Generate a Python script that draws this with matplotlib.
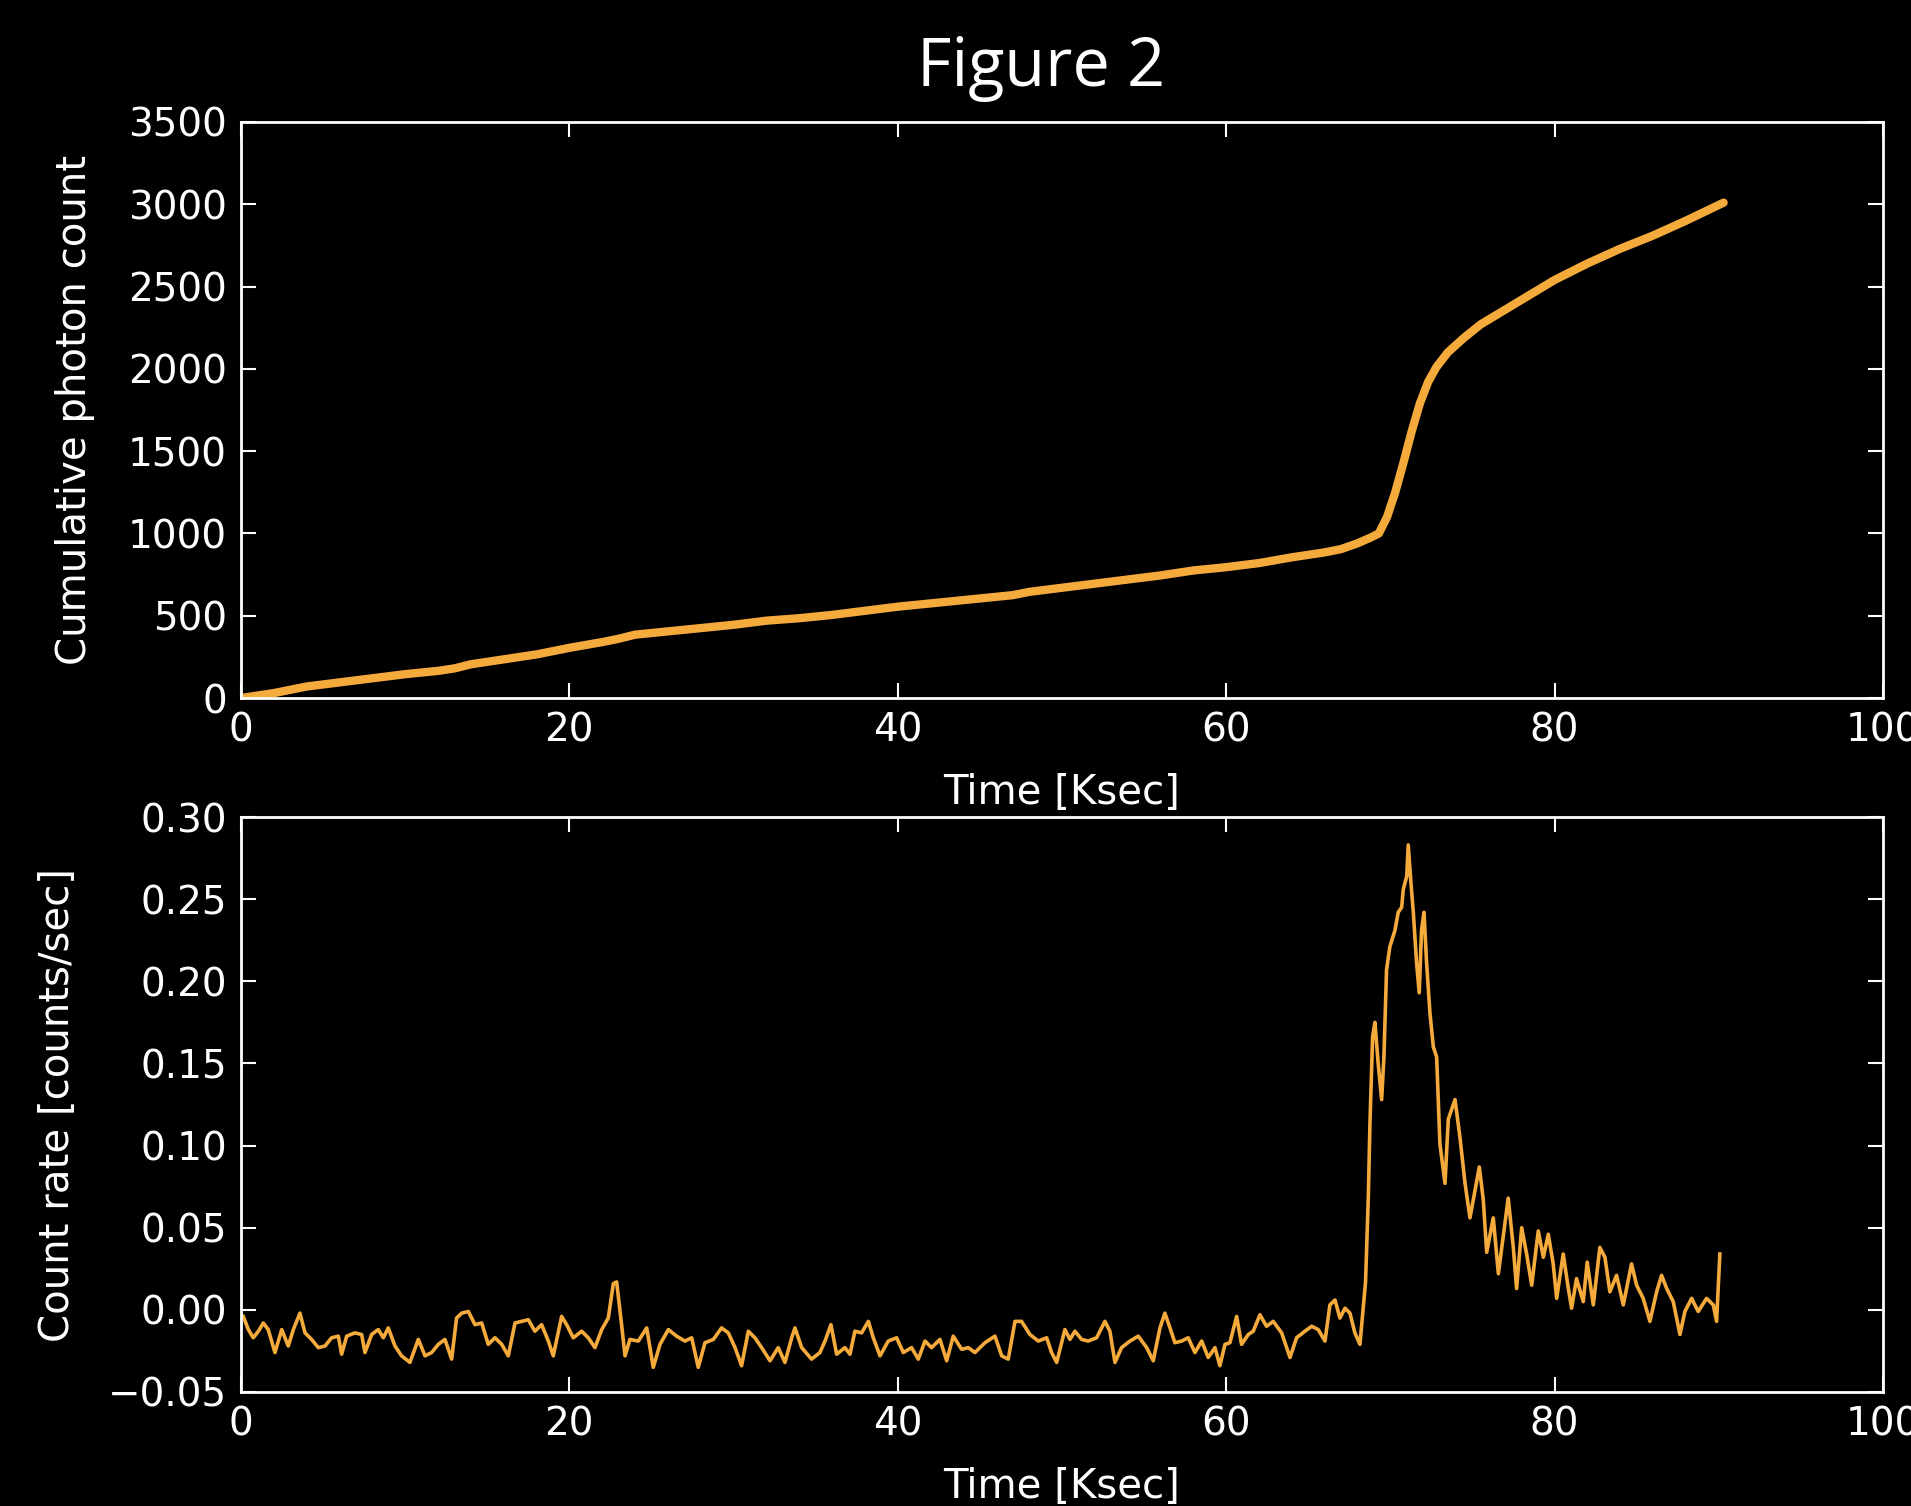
import matplotlib
matplotlib.use("Agg")
from matplotlib import pyplot as plt

# cumulative photon count (top panel)
cum_time = [0, 2, 4, 6, 8, 10, 12, 13, 14, 16, 18, 20, 22, 23, 24, 26, 28, 30,
            32, 34, 36, 38, 40, 42, 44, 46, 47, 48, 50, 52, 54, 56, 58, 60, 62,
            64, 66, 67, 68, 68.8, 69.3, 69.8, 70.3, 70.8, 71.3, 71.8, 72.3, 72.8,
            73.5, 74.5, 75.5, 76.5, 78, 80, 82, 84, 86, 88, 90.3]
cum_count = [0, 30, 70, 95, 120, 145, 165, 180, 205, 235, 265, 305, 340, 360,
             385, 405, 425, 445, 470, 485, 505, 530, 555, 575, 595, 615, 625,
             645, 670, 695, 720, 745, 775, 795, 820, 855, 885, 905, 940, 975,
             1000, 1100, 1250, 1430, 1620, 1790, 1920, 2010, 2100, 2190, 2270,
             2330, 2420, 2540, 2640, 2730, 2810, 2900, 3010]

# count rate (bottom panel)
rate_time = [
    0.14, 0.45, 0.75, 1.06, 1.36, 1.66, 2.07, 2.48, 2.88, 3.19, 3.59, 3.90,
    4.30, 4.71, 5.12, 5.52, 5.93, 6.13, 6.44, 6.94, 7.35, 7.55, 7.96, 8.36,
    8.67, 8.97, 9.38, 9.78, 10.29, 10.80, 11.21, 11.61, 12.02, 12.42, 12.83,
    13.13, 13.44, 13.85, 14.25, 14.66, 15.06,
    15.47, 15.88, 16.28, 16.69, 17.09, 17.50, 17.90, 18.31, 18.72, 19.02,
    19.53, 19.83, 20.24, 20.75, 21.15, 21.56, 21.97, 22.37, 22.68, 22.88,
    23.18, 23.39, 23.69, 24.20, 24.71, 25.11, 25.52, 26.03, 26.53, 27.04,
    27.45, 27.85, 28.26, 28.77, 29.27, 29.68, 30.09, 30.49, 30.90,
    31.30, 31.71, 32.22, 32.72, 33.13, 33.54, 33.74, 34.15, 34.75, 35.26,
    35.57, 35.93, 36.28, 36.78, 37.09, 37.39, 37.80, 38.21, 38.51, 38.92,
    39.42, 39.93, 40.34, 40.84, 41.25, 41.66, 42.06, 42.57, 42.98, 43.38,
    43.89, 44.30, 44.70, 45.31, 45.92, 46.33, 46.73, 47.14,
    47.54, 48.05, 48.56, 49.07, 49.37, 49.68, 50.18, 50.49, 50.79, 51.20,
    51.60, 52.11, 52.62, 52.92, 53.23, 53.63, 54.14, 54.65, 55.16, 55.56,
    55.97, 56.27, 56.58, 56.88, 57.29, 57.69, 58.10, 58.51, 58.91, 59.32,
    59.62, 59.93, 60.23, 60.64, 60.94, 61.35, 61.65, 62.06, 62.46, 62.87,
    63.38, 63.89, 64.29, 64.80, 65.21, 65.61, 66.02, 66.32, 66.63, 66.93,
    67.24, 67.54, 67.84, 68.15, 68.35, 68.49,
    68.66, 68.76, 68.92, 69.06, 69.26, 69.47, 69.61, 69.77, 69.97, 70.28,
    70.48, 70.69, 70.79, 71.00, 71.09, 71.24, 71.40, 71.60, 71.76, 71.90,
    72.05, 72.21, 72.41, 72.62, 72.82, 73.02, 73.33, 73.53, 73.94, 74.24,
    74.55, 74.85, 75.16, 75.42, 75.66, 75.87, 76.27, 76.58,
    77.18, 77.49, 77.69, 78.00, 78.30, 78.61, 79.01, 79.32, 79.62, 79.92,
    80.13, 80.53, 80.84, 81.04, 81.34, 81.75, 81.99, 82.36, 82.76, 83.07,
    83.37, 83.78, 84.19, 84.69, 85.00, 85.40, 85.81, 86.22, 86.52, 86.83,
    87.23, 87.64, 87.94, 88.35, 88.75, 89.26, 89.67, 89.87, 90.07,
]
rate_value = [
    -0.004, -0.012, -0.017, -0.013, -0.008, -0.012, -0.026, -0.012, -0.022,
    -0.012, -0.002, -0.014, -0.018, -0.023, -0.022, -0.017, -0.016, -0.027,
    -0.016, -0.014, -0.015, -0.026, -0.015, -0.012, -0.017, -0.011, -0.022,
    -0.028, -0.032, -0.018, -0.028, -0.026, -0.021, -0.018, -0.030, -0.005,
    -0.002, -0.001, -0.009, -0.008, -0.021,
    -0.017, -0.021, -0.028, -0.008, -0.007, -0.006, -0.013, -0.009, -0.019,
    -0.028, -0.004, -0.009, -0.017, -0.013, -0.017, -0.023, -0.012, -0.005,
    0.016, 0.017, -0.009, -0.028, -0.018, -0.019, -0.011, -0.035, -0.021,
    -0.012, -0.016, -0.019, -0.017, -0.035, -0.020, -0.018, -0.011, -0.014,
    -0.023, -0.034, -0.013,
    -0.017, -0.023, -0.031, -0.023, -0.032, -0.017, -0.011, -0.023, -0.030,
    -0.026, -0.019, -0.009, -0.027, -0.023, -0.027, -0.013, -0.014, -0.007,
    -0.017, -0.028, -0.019, -0.017, -0.026, -0.023, -0.030, -0.019, -0.023,
    -0.018, -0.031, -0.016, -0.024, -0.023, -0.026, -0.020, -0.016, -0.028,
    -0.030, -0.007,
    -0.007, -0.015, -0.019, -0.017, -0.026, -0.032, -0.012, -0.018, -0.013,
    -0.018, -0.019, -0.017, -0.007, -0.013, -0.032, -0.023, -0.019, -0.016,
    -0.023, -0.031, -0.011, -0.002, -0.011, -0.020, -0.019, -0.017, -0.026,
    -0.019, -0.029, -0.023, -0.034, -0.021, -0.020, -0.004, -0.021, -0.015,
    -0.013, -0.003, -0.010, -0.007,
    -0.014, -0.029, -0.017, -0.013, -0.010, -0.012, -0.019, 0.003, 0.006,
    -0.005, 0.001, -0.002, -0.014, -0.021, 0.001, 0.017,
    0.069, 0.114, 0.166, 0.175, 0.150, 0.128, 0.154, 0.207, 0.221, 0.231,
    0.242, 0.245, 0.256, 0.264, 0.283, 0.262, 0.242, 0.211, 0.193, 0.231,
    0.242, 0.211, 0.181, 0.160, 0.154, 0.101, 0.077, 0.116, 0.128, 0.105,
    0.077, 0.056, 0.073, 0.087, 0.067, 0.035, 0.056, 0.022,
    0.068, 0.038, 0.013, 0.050, 0.034, 0.015, 0.048, 0.032, 0.046, 0.028,
    0.007, 0.034, 0.013, 0.001, 0.019, 0.005, 0.029, 0.003, 0.038, 0.032,
    0.011, 0.021, 0.003, 0.028, 0.015, 0.007, -0.007, 0.011, 0.021, 0.013,
    0.005, -0.015, -0.001, 0.007, -0.001, 0.007, 0.003, -0.007, 0.034,
]

x_ticks = [0, 20, 40, 60, 80, 100]
cum_ticks = [0, 500, 1000, 1500, 2000, 2500, 3000, 3500]
rate_ticks = [-0.05, 0.00, 0.05, 0.10, 0.15, 0.20, 0.25, 0.30]

line_color = "#f5aa3c"
fg = "white"

plt.rcParams["font.family"] = ["DejaVu Sans"]

fig = plt.figure(figsize=(19.11, 15.06), dpi=100, facecolor="black")
ax1 = fig.add_axes([0.1261, 0.5365, 0.8592, 0.3825])
ax2 = fig.add_axes([0.1261, 0.0757, 0.8592, 0.3818])

ax1.plot(cum_time, cum_count, color=line_color, lw=6, solid_capstyle="round")
ax2.plot(rate_time, rate_value, color=line_color, lw=2.6)

ax1.set_ylim(0, 3500)
ax1.set_yticks(cum_ticks)
ax1.set_ylabel("Cumulative photon count")
ax2.set_ylim(-0.05, 0.30)
ax2.set_yticks(rate_ticks)
ax2.set_yticklabels(["\u22120.05"] + [f"{v:.2f}" for v in rate_ticks[1:]])
ax2.set_ylabel("Count rate [counts/sec]")

for ax in (ax1, ax2):
    ax.set_facecolor("black")
    ax.set_xlim(0, 100)
    ax.set_xticks(x_ticks)
    ax.set_xlabel("Time [Ksec]")
    for s in ax.spines.values():
        s.set_color(fg)
        s.set_linewidth(2)
    ax.tick_params(direction="in", length=11, width=1.5, colors=fg,
                   labelsize=28, top=True, right=True, pad=10)
    ax.xaxis.label.set_color(fg)
    ax.yaxis.label.set_color(fg)
    ax.xaxis.label.set_size(29)
    ax.yaxis.label.set_size(29)
    ax.xaxis.set_label_coords(0.5, -0.13)

ax1.yaxis.set_label_coords(-0.089, 0.5)
ax2.yaxis.set_label_coords(-0.099, 0.5)

fig.text(0.545, 0.955, "Figure 2", color=fg, fontsize=48,
         family="Open Sans", ha="center", va="center")

fig.savefig("out.png", dpi=100, facecolor="black")
